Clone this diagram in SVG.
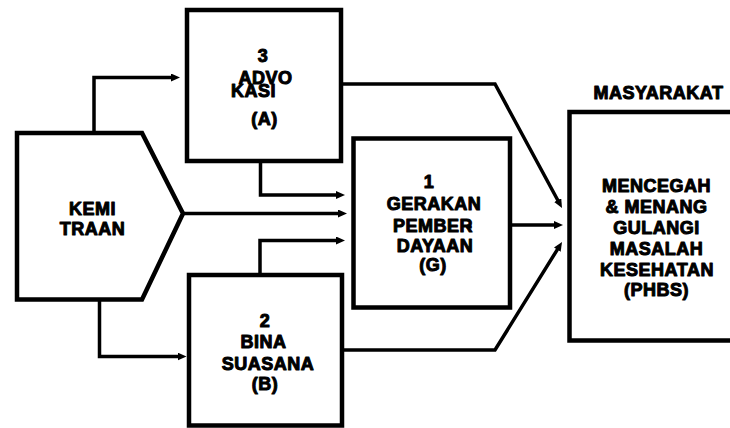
<svg xmlns="http://www.w3.org/2000/svg" width="730" height="428" viewBox="0 0 730 428">
  <style>
    .box { fill: #fff; stroke: #000; stroke-width: 4.5; stroke-linejoin: miter; }
    .conn { fill: none; stroke: #000; stroke-width: 3.5; stroke-linejoin: miter; }
    /* heavy caption text: a thin outline thickens the strokes */
    text { font-family: "Liberation Sans", Arimo, Arial, sans-serif; font-weight: 700; font-size: 18px;
           fill: #000; stroke: #000; stroke-width: 1; stroke-linejoin: round; letter-spacing: 0.5px; text-anchor: middle; }
  </style>
  <defs>
    <marker id="arrow" markerUnits="userSpaceOnUse" markerWidth="10" markerHeight="9" refX="1" refY="4" orient="auto">
      <path d="M0,0 L9,4 L0,8 Z" fill="#000"/>
    </marker>
  </defs>

  <rect width="730" height="428" fill="#fff"/>

  <!-- connectors -->
  <g id="connectors" class="conn" marker-end="url(#arrow)">
    <path d="M94,133 V77.5 H172"/>
    <path d="M260.5,161 V195 H337"/>
    <path d="M183,213.5 H339"/>
    <path d="M260,275 V240.5 H337"/>
    <path d="M99.5,300 V356.5 H178.5"/>
    <path d="M341,84 H495 L558.2,201"/>
    <path d="M510,225 H555"/>
    <path d="M342,350 H495 L557.8,248.8"/>
  </g>

  <!-- KEMITRAAN -->
  <g id="kemitraan">
    <polygon class="box" points="17,133 142,133 183,213.5 142,299.5 17,299.5"/>
    <text x="92.5" y="215">KEMI</text>
    <text x="92.5" y="235">TRAAN</text>
  </g>

  <!-- ADVOKASI -->
  <g id="advokasi">
    <rect class="box" x="187" y="10" width="154" height="151"/>
    <text x="263" y="62">3</text>
    <text x="265.5" y="83.5">ADVO</text>
    <text x="253.5" y="97">KASI</text>
    <text x="264.5" y="125">(A)</text>
  </g>

  <!-- GERAKAN PEMBERDAYAAN -->
  <g id="gerakan">
    <rect class="box" x="353.5" y="138.5" width="156.5" height="169"/>
    <text x="429" y="188">1</text>
    <text x="434" y="210">GERAKAN</text>
    <text x="393" y="232" style="text-anchor:start">PEMBER<tspan dx="-7">-</tspan></text>
    <text x="435" y="252">DAYAAN</text>
    <text x="433" y="271">(G)</text>
  </g>

  <!-- BINA SUASANA -->
  <g id="bina-suasana">
    <rect class="box" x="189" y="275" width="153" height="150.5"/>
    <text x="265" y="327">2</text>
    <text x="263.5" y="348">BINA</text>
    <text x="268" y="370">SUASANA</text>
    <text x="265" y="390">(B)</text>
  </g>

  <!-- MASYARAKAT -->
  <g id="masyarakat">
    <text x="658.5" y="99">MASYARAKAT</text>
    <rect class="box" x="569.5" y="112" width="200" height="228.5"/>
    <text x="656.5" y="192">MENCEGAH</text>
    <text x="656.5" y="213">&amp; MENANG</text>
    <text x="656.5" y="234">GULANGI</text>
    <text x="656.5" y="255">MASALAH</text>
    <text x="657" y="276">KESEHATAN</text>
    <text x="656.5" y="296">(PHBS)</text>
  </g>
</svg>
